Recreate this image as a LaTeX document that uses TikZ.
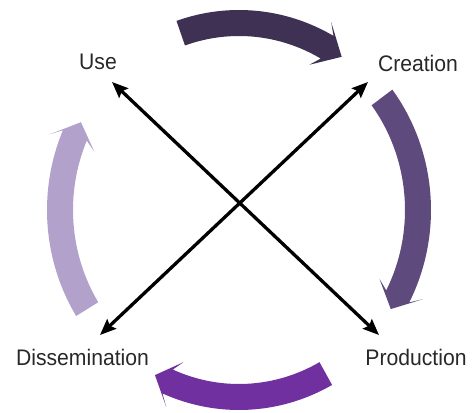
\documentclass[tikz,border=0pt]{standalone}
\usepackage{fontspec}
\setmainfont[FakeStretch=0.94]{Liberation Sans}
\usetikzlibrary{arrows.meta}
\definecolor{stageTop}{RGB}{63,49,84}
\definecolor{stageRight}{RGB}{95,74,125}
\definecolor{stageBottom}{RGB}{112,48,160}
\definecolor{stageLeft}{RGB}{177,161,203}
\definecolor{labelgray}{RGB}{40,40,40}
% curved block arrow on the cycle: #1 start angle, #2 head base angle, #3 tip angle, #4 colour
\newcommand\cyclearrow[4]{%
  \pgfmathsetmacro\junc{#2-2.5}%
  \fill[#4] (#1:192 and 200)
    arc[start angle=#1, end angle=\junc, x radius=192, y radius=200]
    -- (#2:203 and 211) -- (#3:179 and 187) -- (#2:155 and 163)
    -- (\junc:166 and 174)
    arc[start angle=\junc, end angle=#1, x radius=166, y radius=174] -- cycle;}
\begin{document}
\begin{tikzpicture}[x=1pt,y=1pt,
  stagelabel/.style={font=\fontsize{22.5}{27}\selectfont, text=labelgray, inner sep=0pt, anchor=base},
  link/.style={line width=3.3pt,
    {Stealth[length=16pt,width=13pt,inset=2.5pt]}-{Stealth[length=16pt,width=13pt,inset=2.5pt]}}]
\useasboundingbox (0,0) rectangle (472,413);

% the four cycle arrows, running clockwise
\begin{scope}[shift={(239,203)}]
  \cyclearrow{109}{63}{55}{stageTop}
  \cyclearrow{37}{-25}{-32}{stageRight}
  \cyclearrow{-61}{-111}{-118}{stageBottom}
  \cyclearrow{212}{159}{152}{stageLeft}
\end{scope}

% stage names
\node[stagelabel] (use) at (98,343) {Use};
\node[stagelabel] (creation) at (418,341) {Creation};
\node[stagelabel] (production) at (416,48) {Production};
\node[stagelabel] (dissemination) at (82.5,47) {Dissemination};

% ends of the crossing links
\coordinate (use-end) at (112,331);
\coordinate (production-end) at (379,78);
\coordinate (creation-end) at (368,331);
\coordinate (dissemination-end) at (100,78);

\draw[link] (use-end) -- (production-end);
\draw[link] (creation-end) -- (dissemination-end);
\end{tikzpicture}
\end{document}
